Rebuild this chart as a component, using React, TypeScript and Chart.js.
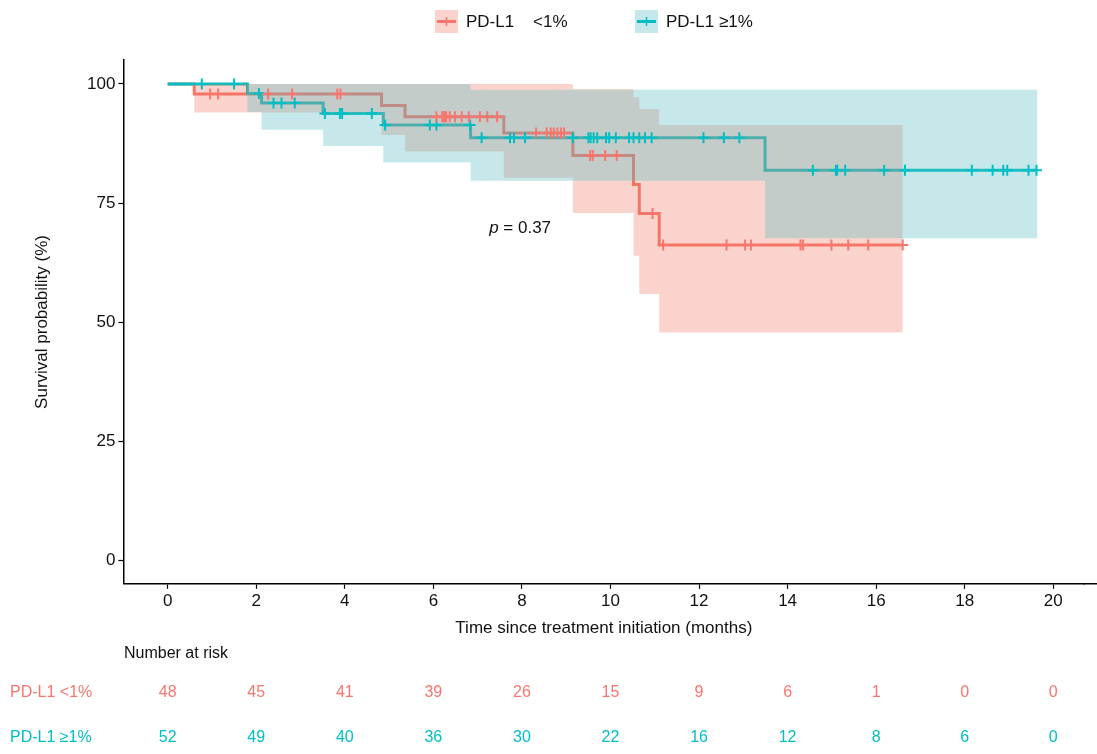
import React, { useEffect, useRef } from "react";
import { Chart, registerables } from "chart.js";

Chart.register(...registerables);

const RED = "#F8766D";
const CYAN = "#00BFC4";
const RED_FILL = "rgba(238,112,85,0.3)";
const CYAN_FILL = "rgba(87,187,193,0.34)";
const FONT = "'Liberation Sans', Arial, sans-serif";

// Legend / group labels
const legendLabels = ["PD-L1    <1%", "PD-L1 \u22651%"];
const riskRowLabels = ["PD-L1 <1%", "PD-L1 \u22651%"];

// Axis ticks
const xTickValues = [0, 2, 4, 6, 8, 10, 12, 14, 16, 18, 20];
const yTickValues = [0, 25, 50, 75, 100];

// PD-L1 <1% : KM step curve (time in months, survival %)
const redTimes = [0, 0.6, 4.83, 5.36, 7.59, 9.15, 10.52, 10.65, 11.1, 16.6];
const redSurv = [100, 97.9, 95.5, 93.1, 89.7, 85.0, 78.9, 72.8, 66.2, 66.2];
const redUpper = [100, 100, 100, 100, 100, 98.9, 97.2, 94.7, 91.4, 91.4];
const redLower = [100, 94.0, 89.3, 85.8, 80.3, 72.9, 63.9, 55.9, 47.8, 47.8];
const redCensor = [
  0.96, 1.14, 2.27, 2.81, 3.83, 3.9, 6.07, 6.2, 6.23, 6.26, 6.29, 6.37, 6.49, 6.64,
  6.8, 7.05, 7.22, 7.44, 8.32, 8.56, 8.65, 8.72, 8.8, 8.88, 8.95, 9.54, 9.6, 9.88,
  10.14, 10.95, 11.19, 12.62, 13.04, 13.17, 14.29, 14.35, 14.99, 15.37, 15.82, 16.6,
];

// PD-L1 >=1%
const cyanTimes = [0, 1.8, 2.12, 3.51, 4.87, 6.84, 13.49, 19.64];
const cyanSurv = [100, 98.0, 96.0, 93.8, 91.4, 88.7, 81.9, 81.9];
const cyanUpper = [100, 100, 100, 100, 100, 98.8, 98.8, 98.8];
const cyanLower = [100, 94.1, 90.4, 87.0, 83.5, 79.7, 67.6, 67.6];
const cyanCensor = [
  0.77, 1.5, 2.06, 2.39, 2.57, 2.87, 3.55, 3.89, 3.94, 4.61, 4.91, 5.92, 6.07, 6.83,
  7.09, 7.73, 7.82, 8.07, 9.15, 9.5, 9.55, 9.62, 9.7, 9.9, 9.97, 10.12, 10.42, 10.52,
  10.65, 10.78, 10.93, 12.1, 12.56, 12.91, 14.57, 15.09, 15.12, 15.3, 16.18, 16.65,
  18.16, 18.63, 18.87, 18.96, 19.44, 19.62,
];

// Number at risk
const riskTimes = [0, 2, 4, 6, 8, 10, 12, 14, 16, 18, 20];
const riskRed = [48, 45, 41, 39, 26, 15, 9, 6, 1, 0, 0];
const riskCyan = [52, 49, 40, 36, 30, 22, 16, 12, 8, 6, 0];

// p-value annotation (data coords)
const pValueText = " = 0.37";
const pValuePos = { t: 7.26, s: 69.7 };

const toXY = (xs: number[], ys: number[]) => xs.map((x, i) => ({ x, y: ys[i] }));
const survAt = (times: number[], surv: number[], t: number) => {
  let v = surv[0];
  for (let i = 0; i < times.length; i++) if (times[i] <= t) v = surv[i];
  return v;
};

const overlay = {
  id: "overlay",
  afterDraw(chart: any) {
    const { ctx, chartArea } = chart;
    const xs = chart.scales.x;
    ctx.save();
    // extend bottom axis line to the edge
    const by0 = Math.round(chartArea.bottom - 0.75) + 0.75;
    ctx.strokeStyle = "#000";
    ctx.lineWidth = 1.5;
    ctx.beginPath();
    ctx.moveTo(chartArea.right - 1, by0);
    ctx.lineTo(chart.width, by0);
    ctx.stroke();

    ctx.fillStyle = "#111";
    ctx.textBaseline = "middle";
    // y title
    ctx.save();
    ctx.font = `17px ${FONT}`;
    ctx.translate(42, (chartArea.top + chartArea.bottom) / 2);
    ctx.rotate(-Math.PI / 2);
    ctx.textAlign = "center";
    ctx.fillText("Survival probability (%)", 0, 0);
    ctx.restore();
    // x title
    ctx.font = `17px ${FONT}`;
    ctx.textAlign = "center";
    ctx.fillText("Time since treatment initiation (months)", (chartArea.left + chartArea.right) / 2, 628);

    // p-value
    const px = xs.getPixelForValue(pValuePos.t);
    const py = chart.scales.y.getPixelForValue(pValuePos.s);
    ctx.textAlign = "left";
    ctx.font = `italic 17px ${FONT}`;
    ctx.fillText("p", px, py);
    const pw = ctx.measureText("p").width;
    ctx.font = `17px ${FONT}`;
    ctx.fillText(pValueText, px + pw, py);

    // legend
    const legendX = [435, 635];
    const colors = [RED, CYAN];
    const fills = [RED_FILL, CYAN_FILL];
    for (let i = 0; i < 2; i++) {
      const bx = legendX[i];
      const by = 10;
      ctx.fillStyle = fills[i];
      ctx.fillRect(bx, by, 23, 23);
      ctx.strokeStyle = colors[i];
      ctx.lineWidth = 3;
      ctx.beginPath();
      ctx.moveTo(bx + 2, by + 11.5);
      ctx.lineTo(bx + 21, by + 11.5);
      ctx.stroke();
      ctx.lineWidth = 1.5;
      ctx.beginPath();
      ctx.moveTo(bx + 11.5, by + 7);
      ctx.lineTo(bx + 11.5, by + 16);
      ctx.stroke();
      ctx.fillStyle = "#111";
      ctx.font = `17px ${FONT}`;
      ctx.textAlign = "left";
      ctx.fillText(legendLabels[i], bx + 31, by + 12);
    }

    // risk table
    ctx.font = `16px ${FONT}`;
    ctx.fillStyle = "#111";
    ctx.textAlign = "left";
    ctx.fillText("Number at risk", 124, 654);
    const rows = [riskRed, riskCyan];
    const rowY = [693, 738];
    for (let r = 0; r < 2; r++) {
      ctx.fillStyle = colors[r];
      ctx.font = `16px ${FONT}`;
      ctx.textAlign = "left";
      ctx.fillText(riskRowLabels[r], 10, rowY[r]);
      ctx.textAlign = "center";
      rows[r].forEach((n, i) => {
        ctx.fillText(String(n), xs.getPixelForValue(riskTimes[i]), rowY[r]);
      });
    }
    ctx.restore();
  },
};

export default function App() {
  const ref = useRef<HTMLCanvasElement | null>(null);
  useEffect(() => {
    if (!ref.current) return;
    const line = (label: string, data: any[], color: string, order: number) => ({
      label,
      data,
      borderColor: color,
      backgroundColor: color,
      borderWidth: 3,
      pointRadius: 0,
      stepped: "before" as const,
      fill: false,
      order,
    });
    const band = (label: string, data: any[], fillColor: string, target: any, order: number) => ({
      label,
      data,
      borderWidth: 0,
      borderColor: "rgba(0,0,0,0)",
      backgroundColor: fillColor,
      pointRadius: 0,
      stepped: "before" as const,
      fill: target,
      order,
    });
    const censor = (label: string, times: number[], st: number[], sv: number[], color: string) => ({
      label,
      data: times.map((t) => ({ x: t, y: survAt(st, sv, t) })),
      showLine: false,
      pointStyle: "cross",
      pointRadius: 5.5,
      pointBorderWidth: 2,
      pointBorderColor: color,
      borderColor: color,
      backgroundColor: color,
      order: 0,
    });
    const chart = new Chart(ref.current, {
      type: "line",
      data: {
        datasets: [
          censor("red censor", redCensor, redTimes, redSurv, RED),
          censor("cyan censor", cyanCensor, cyanTimes, cyanSurv, CYAN),
          band("cyan upper", toXY(cyanTimes, cyanUpper), CYAN_FILL, 3, 1),
          band("cyan lower", toXY(cyanTimes, cyanLower), CYAN_FILL, false, 1),
          band("red upper", toXY(redTimes, redUpper), RED_FILL, 5, 2),
          band("red lower", toXY(redTimes, redLower), RED_FILL, false, 2),
          line(legendLabels[0], toXY(redTimes, redSurv), RED, 4),
          line(legendLabels[1], toXY(cyanTimes, cyanSurv), CYAN, 3),
        ] as any,
      },
      options: {
        responsive: false,
        animation: false,
        devicePixelRatio: 1,
        layout: { padding: { left: 0, top: 60.2, right: 12.7, bottom: 130.2 } },
        plugins: { legend: { display: false }, tooltip: { enabled: false } },
        scales: {
          x: {
            type: "linear",
            min: -1,
            max: 20.7,
            afterFit: (s: any) => {
              s.height = 40;
            },
            afterBuildTicks: (s: any) => {
              s.ticks = xTickValues.map((v) => ({ value: v }));
            },
            ticks: { font: { size: 17, family: FONT }, color: "#111", padding: 2 },
            grid: { drawOnChartArea: false, drawTicks: true, tickLength: 5, tickColor: "#000", tickWidth: 1.2 },
            border: { display: true, color: "#000", width: 1.5 },
          },
          y: {
            type: "linear",
            min: -5,
            max: 105,
            afterFit: (s: any) => {
              s.width = 123.4;
            },
            afterBuildTicks: (s: any) => {
              s.ticks = yTickValues.map((v) => ({ value: v }));
            },
            ticks: { font: { size: 17, family: FONT }, color: "#111", padding: 3 },
            grid: { drawOnChartArea: false, drawTicks: true, tickLength: 5, tickColor: "#000", tickWidth: 1.2 },
            border: { display: true, color: "#000", width: 1.5 },
          },
        },
      },
      plugins: [overlay],
    });
    return () => chart.destroy();
  }, []);
  return (
    <div style={{ position: "absolute", left: 0, top: 0, width: 1097, height: 754, background: "#fff" }}>
      <canvas ref={ref} width={1097} height={754} />
    </div>
  );
}
